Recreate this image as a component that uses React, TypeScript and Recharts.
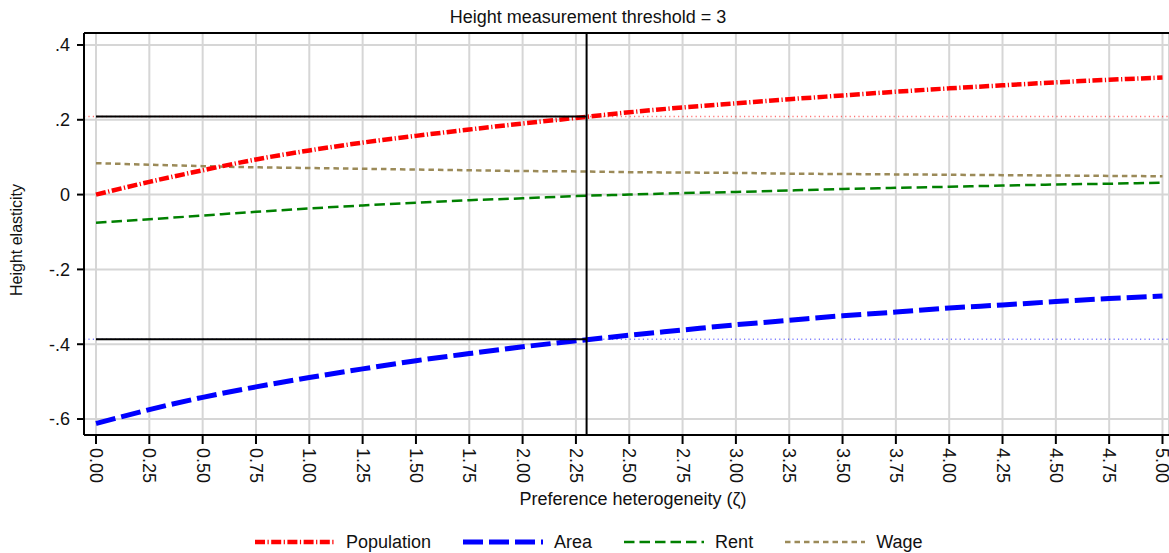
import React from "react";
import { LineChart, Line, XAxis, YAxis, CartesianGrid, ReferenceLine } from "recharts";

const xValues = [0, 0.25, 0.5, 0.75, 1, 1.25, 1.5, 1.75, 2, 2.25, 2.5, 2.75, 3, 3.25, 3.5, 3.75, 4, 4.25, 4.5, 4.75, 5];
const population = [0, 0.034, 0.065, 0.094, 0.118, 0.139, 0.157, 0.174, 0.19, 0.205, 0.22, 0.233, 0.244, 0.255, 0.265, 0.275, 0.284, 0.292, 0.3, 0.307, 0.313];
const area = [-0.612, -0.575, -0.542, -0.514, -0.489, -0.466, -0.444, -0.425, -0.407, -0.391, -0.376, -0.362, -0.348, -0.336, -0.324, -0.314, -0.303, -0.295, -0.286, -0.278, -0.271];
const rent = [-0.075, -0.066, -0.056, -0.046, -0.037, -0.029, -0.022, -0.015, -0.01, -0.004, 0.0, 0.004, 0.007, 0.011, 0.015, 0.018, 0.021, 0.024, 0.027, 0.029, 0.032];
const wage = [0.084, 0.08, 0.076, 0.073, 0.071, 0.069, 0.067, 0.065, 0.063, 0.062, 0.06, 0.059, 0.058, 0.056, 0.055, 0.054, 0.053, 0.052, 0.051, 0.05, 0.049];

const xTicks = [0, 0.25, 0.5, 0.75, 1, 1.25, 1.5, 1.75, 2, 2.25, 2.5, 2.75, 3, 3.25, 3.5, 3.75, 4, 4.25, 4.5, 4.75, 5];
const yTicks = [-0.6, -0.4, -0.2, 0, 0.2, 0.4];
const yTickLabels = ["-.6", "-.4", "-.2", "0", ".2", ".4"];

const markerX = 2.3;
const markerPopulation = 0.209;
const markerArea = -0.387;

const seriesNames = ["Population", "Area", "Rent", "Wage"];

const X_DOMAIN: [number, number] = [-0.0563, 5.0305];
const Y_DOMAIN: [number, number] = [-0.6427, 0.432];

const FONT = "'Liberation Sans', Arial, Helvetica, sans-serif";
const TEXT = "#111";

const data = xValues.map((x, i) => ({
  x,
  population: population[i],
  area: area[i],
  rent: rent[i],
  wage: wage[i],
}));

const styles: Record<string, { color: string; width: number; dash: string }> = {
  Population: { color: "#ff0000", width: 4.5, dash: "10 2.5 1.2 2.5" },
  Area: { color: "#0000ff", width: 5, dash: "20 6" },
  Rent: { color: "#008000", width: 2.5, dash: "10.5 5" },
  Wage: { color: "#9b8a58", width: 2.5, dash: "5.5 4" },
};

const XTick = (props: any) => {
  const { x, y, payload } = props;
  return (
    <text
      x={x}
      y={y}
      transform={`rotate(90, ${x}, ${y})`}
      textAnchor="start"
      dominantBaseline="central"
      fontSize={18}
      fontFamily={FONT}
      fill={TEXT}
    >
      {Number(payload.value).toFixed(2)}
    </text>
  );
};

const yFmt = (v: number) => {
  const idx = yTicks.findIndex((t) => Math.abs(t - v) < 1e-9);
  return idx >= 0 ? yTickLabels[idx] : String(v);
};

export default function App() {
  return (
    <div style={{ position: "absolute", left: 0, top: 0, width: 1169, height: 553, background: "#fff", overflow: "hidden" }}>
      <LineChart width={1169} height={553} data={data} margin={{ top: 33, right: 0, bottom: 0, left: 0 }}>
        <CartesianGrid stroke="#d6d6d6" strokeWidth={2} />
        <XAxis
          dataKey="x"
          type="number"
          domain={X_DOMAIN}
          allowDataOverflow
          ticks={xTicks}
          interval={0}
          height={118}
          tickSize={9}
          tickMargin={4}
          tick={<XTick />}
          axisLine={{ stroke: "#000", strokeWidth: 2 }}
          tickLine={{ stroke: "#000", strokeWidth: 2 }}
        />
        <YAxis
          type="number"
          domain={Y_DOMAIN}
          allowDataOverflow
          ticks={yTicks}
          interval={0}
          width={84}
          tickSize={7}
          tickMargin={7}
          tickFormatter={yFmt}
          tick={{ fontSize: 18, fontFamily: FONT, fill: TEXT }}
          axisLine={{ stroke: "#000", strokeWidth: 2 }}
          tickLine={{ stroke: "#000", strokeWidth: 2 }}
        />
        <ReferenceLine y={Y_DOMAIN[1]} stroke="#000" strokeWidth={2} />
        <ReferenceLine y={markerPopulation} stroke="#ff0000" strokeOpacity={0.55} strokeWidth={1.5} strokeDasharray="1.2 3.2" />
        <ReferenceLine y={markerArea} stroke="#0000ff" strokeOpacity={0.5} strokeWidth={1.5} strokeDasharray="1.2 3.2" />
        <Line dataKey="wage" type="monotone" stroke={styles.Wage.color} strokeWidth={styles.Wage.width} strokeDasharray={styles.Wage.dash} dot={false} isAnimationActive={false} />
        <Line dataKey="rent" type="monotone" stroke={styles.Rent.color} strokeWidth={styles.Rent.width} strokeDasharray={styles.Rent.dash} dot={false} isAnimationActive={false} />
        <Line dataKey="area" type="monotone" stroke={styles.Area.color} strokeWidth={styles.Area.width} strokeDasharray={styles.Area.dash} dot={false} isAnimationActive={false} />
        <Line dataKey="population" type="monotone" stroke={styles.Population.color} strokeWidth={styles.Population.width} strokeDasharray={styles.Population.dash} dot={false} isAnimationActive={false} />
        <ReferenceLine segment={[{ x: 0, y: markerPopulation }, { x: markerX, y: markerPopulation }]} stroke="#000" strokeWidth={2} />
        <ReferenceLine segment={[{ x: 0, y: markerArea }, { x: markerX, y: markerArea }]} stroke="#000" strokeWidth={2} />
        <ReferenceLine x={markerX} stroke="#000" strokeWidth={2} />
      </LineChart>
      <svg
        width={1169}
        height={553}
        style={{ position: "absolute", left: 0, top: 0, pointerEvents: "none" }}
        fontFamily={FONT}
      >
        <text x={588} y={23} textAnchor="middle" fontSize={18} fill={TEXT}>
          Height measurement threshold = 3
        </text>
        <text x={633} y={505} textAnchor="middle" fontSize={18} fill={TEXT}>
          Preference heterogeneity (ζ)
        </text>
        <text transform="translate(22,240) rotate(-90)" textAnchor="middle" fontSize={16} fill={TEXT}>
          Height elasticity
        </text>
      </svg>
      <div
        style={{
          position: "absolute",
          left: 255,
          top: 531,
          display: "flex",
          alignItems: "center",
          fontFamily: FONT,
          fontSize: 18,
          color: TEXT,
          whiteSpace: "nowrap",
        }}
      >
        {seriesNames.map((name, i) => {
          const s = styles[name];
          return (
            <div key={name} style={{ display: "flex", alignItems: "center", marginLeft: i === 0 ? 0 : 32 }}>
              <svg width={80} height={10} style={{ display: "block" }}>
                <line x1={0} y1={5} x2={80} y2={5} stroke={s.color} strokeWidth={s.width} strokeDasharray={s.dash} />
              </svg>
              <span style={{ marginLeft: 11, lineHeight: "22px" }}>{name}</span>
            </div>
          );
        })}
      </div>
    </div>
  );
}
